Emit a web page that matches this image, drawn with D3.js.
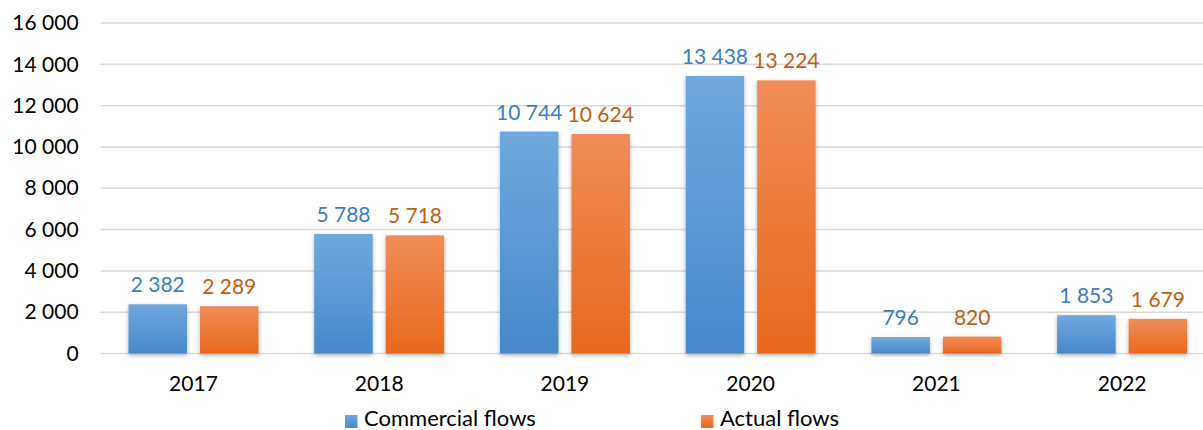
<!DOCTYPE html>
<html><head><meta charset="utf-8">
<script src="https://cdn.jsdelivr.net/npm/d3@7"></script>
<style>body{margin:0;background:#fff}svg{display:block}text{font-family:Lato,"Open Sans",sans-serif}</style>
</head><body>
<svg id="c" width="1203" height="430"></svg>
<script>
const categories = ["2017","2018","2019","2020","2021","2022"];
const commercial = [2382,5788,10744,13438,796,1853];
const actual = [2289,5718,10624,13224,820,1679];
const seriesNames = ["Commercial flows","Actual flows"];
const yTicks = [0,2000,4000,6000,8000,10000,12000,14000,16000];

(function(){
const svg = d3.select("#c");
const mLeft = 100.6, mRight = 1215, mTop = 23, mBottom = 353.5;
const x = d3.scaleBand().domain(categories).range([mLeft,mRight]).paddingInner(0).paddingOuter(0);
const y = d3.scaleLinear().domain([0,16000]).range([mBottom,mTop]);
const fmt = v => d3.format(",")(v).replace(/,/g," ");
const FS = 21;

const defs = svg.append("defs");
function grad(id,c1,c2){const g=defs.append("linearGradient").attr("id",id).attr("x1",0).attr("y1",0).attr("x2",0).attr("y2",1);
g.append("stop").attr("offset","0%").attr("stop-color",c1);g.append("stop").attr("offset","100%").attr("stop-color",c2);}
grad("gb","#70a8de","#4689cc");
grad("go","#f18d58","#e8681c");
const f = defs.append("filter").attr("id","sh").attr("x","-20%").attr("y","-20%").attr("width","140%").attr("height","140%");
f.append("feDropShadow").attr("dx",0).attr("dy",2).attr("stdDeviation",2).attr("flood-color","#000").attr("flood-opacity",0.3);

svg.append("g").selectAll("line").data(yTicks).join("line")
  .attr("x1",mLeft).attr("x2",1203).attr("y1",d=>y(d)).attr("y2",d=>y(d))
  .attr("stroke","#d9d9d9").attr("stroke-width",1.5);

const ya = svg.append("g").attr("transform",`translate(${mLeft},0)`).call(d3.axisLeft(y).tickValues(yTicks).tickFormat(fmt).tickSize(0).tickPadding(22));
ya.select(".domain").remove();
ya.selectAll("text").attr("font-size",FS).attr("fill","#000").style("font-family","Lato,'Open Sans',sans-serif");

const xa = svg.append("g").attr("transform",`translate(0,${mBottom})`).call(d3.axisBottom(x).tickSize(0).tickPadding(23));
xa.select(".domain").remove();
xa.selectAll("text").attr("font-size",FS).attr("fill","#000").style("font-family","Lato,'Open Sans',sans-serif");

const barW = 58.5, gap = 13;
const series = [
  {name:seriesNames[0], vals:commercial, fill:"url(#gb)", lab:"#3b7cc3", off:-(gap/2+barW)},
  {name:seriesNames[1], vals:actual, fill:"url(#go)", lab:"#c65b13", off:gap/2}
];
series.forEach(s=>{
  const g = svg.append("g");
  g.selectAll("rect").data(categories).join("rect")
    .attr("x",(d)=>x(d)+x.bandwidth()/2+s.off)
    .attr("width",barW)
    .attr("y",(d,i)=>y(s.vals[i]))
    .attr("height",(d,i)=>mBottom-y(s.vals[i]))
    .attr("fill",s.fill).attr("filter","url(#sh)");
  g.selectAll("text").data(categories).join("text")
    .attr("x",(d)=>x(d)+x.bandwidth()/2+s.off+barW/2)
    .attr("y",(d,i)=>y(s.vals[i])-12)
    .attr("text-anchor","middle").attr("font-size",FS).attr("fill",s.lab)
    .text((d,i)=>fmt(s.vals[i]));
});

const leg = [{name:seriesNames[0],fill:"url(#gb)",x:345},{name:seriesNames[1],fill:"url(#go)",x:701}];
const lg = svg.append("g");
leg.forEach(l=>{
  lg.append("rect").attr("x",l.x).attr("y",415).attr("width",12.5).attr("height",13).attr("fill",l.fill);
  lg.append("text").attr("x",l.x+19).attr("y",426).attr("font-size",22).attr("fill","#000").text(l.name);
});
})();
</script>
</body></html>
